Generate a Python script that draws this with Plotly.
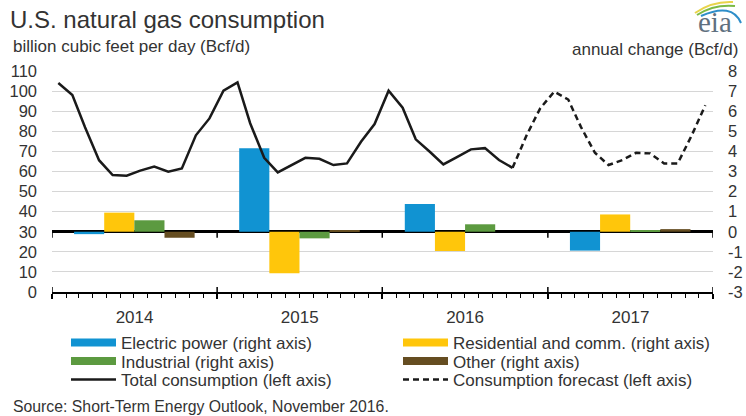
import plotly.graph_objects as go

# ---------------- data ----------------
years = [2014, 2015, 2016, 2017]
months = [f"{y}-{m:02d}-15" for y in years for m in range(1, 13)]

# total consumption, Jan 2014 - Oct 2016 (Bcf/d, left axis)
total_actual = [104, 98, 82, 65.6, 58.2, 57.9, 60.4, 62.4, 59.9, 61.5, 78, 86.4,
                100.2, 104.3, 84, 66.8, 59.5, 63.2, 66.8, 66.3, 63.2, 64, 74.8, 83.6,
                100.2, 91.7, 76, 69.8, 63.5, 67.3, 71, 71.6, 65.7, 61.8]
# forecast, Oct 2016 - Dec 2017 (Bcf/d, left axis)
forecast = [61.8, 78, 91.4, 99.7, 95.8, 82.2, 69.3, 63.2, 65.7, 69.3, 69, 64, 64, 78, 93]

# annual change by sector (Bcf/d, right axis)
electric = [-0.12, 4.15, 1.38, -0.94]
residential = [0.95, -2.07, -0.96, 0.86]
industrial = [0.57, -0.33, 0.37, 0.08]
other = [-0.3, 0.07, 0.0, 0.13]

left_ticks = list(range(0, 111, 10))
right_ticks = list(range(-3, 9))
right_ticktext = [str(v) for v in right_ticks]

# ---------------- styling ----------------
FONT = "Liberation Sans, Arial, sans-serif"
TXT = "#333333"
C_ELEC = "#1193D2"
C_RES = "#FFC60B"
C_IND = "#5C9A40"
C_OTH = "#654D21"
C_LINE = "#1a1a1a"

W, H = 746, 416
ML, MR, MT, MB = 52, 33, 71, 124
PW, PH = W - ML - MR, H - MT - MB


def px2x(px):
    return (px - ML) / PW


def py2y(py):
    return (H - MB - py) / PH


year_mid = [f"{y}-07-02" for y in years]
n_act = len(total_actual)
fc_start = n_act - 1

fig = go.Figure()

sectors = [("Electric power (right axis)", electric, C_ELEC, "legend"),
           ("Residential and comm. (right axis)", residential, C_RES, "legend"),
           ("Industrial (right axis)", industrial, C_IND, "legend2"),
           ("Other (right axis)", other, C_OTH, "legend2")]

for name, vals, col, lg in sectors:
    fig.add_trace(go.Bar(x=year_mid, y=vals, name=name, marker=dict(color=col, line=dict(width=0)),
                         showlegend=False, xaxis="x", yaxis="y"))

# legend proxies for bars (wide swatches)
for name, vals, col, lg in sectors:
    fig.add_trace(go.Scatter(x=[None], y=[None], mode="lines", name=name, legend=lg,
                             line=dict(color=col, width=8), xaxis="x", yaxis="y"))

fig.add_trace(go.Scatter(x=months[:n_act], y=total_actual, mode="lines",
                         name="Total consumption (left axis)", legend="legend3",
                         line=dict(color=C_LINE, width=2.5), xaxis="x", yaxis="y2"))
fig.add_trace(go.Scatter(x=months[fc_start:fc_start + len(forecast)], y=forecast, mode="lines",
                         name="Consumption forecast (left axis)", legend="legend3",
                         line=dict(color=C_LINE, width=2.5, dash="6px,4px"), xaxis="x", yaxis="y2"))

# year-boundary tick decorations (above bottom axis, below zero line)
bounds = [f"{y}-01-01" for y in years] + [f"{years[-1] + 1}-01-01"]
shapes = []
for b in bounds:
    shapes.append(dict(type="line", xref="x", yref="y", ysizemode="pixel", yanchor=-3,
                       x0=b, x1=b, y0=0, y1=5, line=dict(color="black", width=1.5)))
    shapes.append(dict(type="line", xref="x", yref="y", ysizemode="pixel", yanchor=0,
                       x0=b, x1=b, y0=0, y1=-6, line=dict(color="black", width=1.5)))

annotations = [
    dict(text="billion cubic feet per day (Bcf/d)", xref="paper", yref="paper",
         x=px2x(11), y=py2y(47), xanchor="left", yanchor="middle", showarrow=False,
         font=dict(size=17, color=TXT, family=FONT)),
    dict(text="annual change (Bcf/d)", xref="paper", yref="paper",
         x=px2x(740), y=py2y(50), xanchor="right", yanchor="middle", showarrow=False,
         font=dict(size=17, color=TXT, family=FONT)),
    dict(text="Source: Short-Term Energy Outlook, November 2016.", xref="paper", yref="paper",
         x=px2x(11), y=py2y(406), xanchor="left", yanchor="middle", showarrow=False,
         font=dict(size=15.8, color=TXT, family=FONT)),
    dict(text="eia", xref="paper", yref="paper",
         x=px2x(715), y=py2y(22), xanchor="center", yanchor="middle", showarrow=False,
         font=dict(size=29, color="#5f7080", family="Liberation Serif, DejaVu Serif, serif")),
]

# eia logo swooshes
shapes += [
    dict(type="path", xref="paper", yref="paper",
         path=f"M {px2x(695)} {py2y(13)} Q {px2x(712)} {py2y(1)} {px2x(733)} {py2y(2)}",
         line=dict(color="#e8d44a", width=2)),
    dict(type="path", xref="paper", yref="paper",
         path=f"M {px2x(697)} {py2y(15)} Q {px2x(714)} {py2y(4)} {px2x(735)} {py2y(6)}",
         line=dict(color="#7cba45", width=2)),
    dict(type="path", xref="paper", yref="paper",
         path=f"M {px2x(701)} {py2y(16)} Q {px2x(732)} {py2y(2)} {px2x(741)} {py2y(23)}",
         line=dict(color="#2e8ec9", width=2)),
]

legend_common = dict(orientation="h", xref="container", yref="container",
                     x=66 / W, xanchor="left", yanchor="middle",
                     entrywidth=272, itemwidth=45, font=dict(size=17, color=TXT, family=FONT),
                     bgcolor="rgba(0,0,0,0)", traceorder="normal")

fig.update_layout(
    width=W, height=H,
    margin=dict(l=ML, r=MR, t=MT, b=MB, autoexpand=False),
    paper_bgcolor="white", plot_bgcolor="white",
    font=dict(family=FONT, color=TXT, size=16),
    title=dict(text="U.S. natural gas consumption", x=10 / W, xanchor="left", xref="container",
               y=1 - 20 / H, yanchor="middle", yref="container",
               font=dict(size=24, color=TXT, family=FONT)),
    barmode="group", bargap=0.27, bargroupgap=0,
    xaxis=dict(type="date", range=["2014-01-01", "2018-01-01"], tick0="2014-01-01", dtick="M12",
               ticklabelmode="period", tickformat="%Y", ticks="outside", ticklen=5, tickwidth=1.5,
               tickcolor="black", showline=True, linecolor="black", linewidth=2,
               showgrid=False, zeroline=False, ticklabelstandoff=4,
               tickfont=dict(size=17, color=TXT),
               minor=dict(dtick="M1", ticks="outside", ticklen=4, tickwidth=1, tickcolor="black",
                          showgrid=False)),
    yaxis=dict(range=[-3, 8], tickvals=right_ticks, ticktext=right_ticktext, side="right",
               showgrid=True, gridcolor="#d6d6d6", gridwidth=1, zeroline=True,
               zerolinecolor="black", zerolinewidth=2.5, showline=False, ticks="",
               ticklabelstandoff=14, tickfont=dict(size=16.5, color=TXT)),
    yaxis2=dict(range=[0, 110], tickvals=left_ticks, side="left", overlaying="y",
                showgrid=False, zeroline=False, showline=False, ticks="",
                ticklabelstandoff=14, tickfont=dict(size=16.5, color=TXT)),
    legend=dict(legend_common, y=1 - 343 / H),
    legend2=dict(legend_common, y=1 - 361.5 / H),
    legend3=dict(legend_common, y=1 - 380 / H),
    shapes=shapes,
    annotations=annotations,
)

fig.write_html("out.html", post_script="document.body.style.margin='0';",
               config={"displayModeBar": False})
